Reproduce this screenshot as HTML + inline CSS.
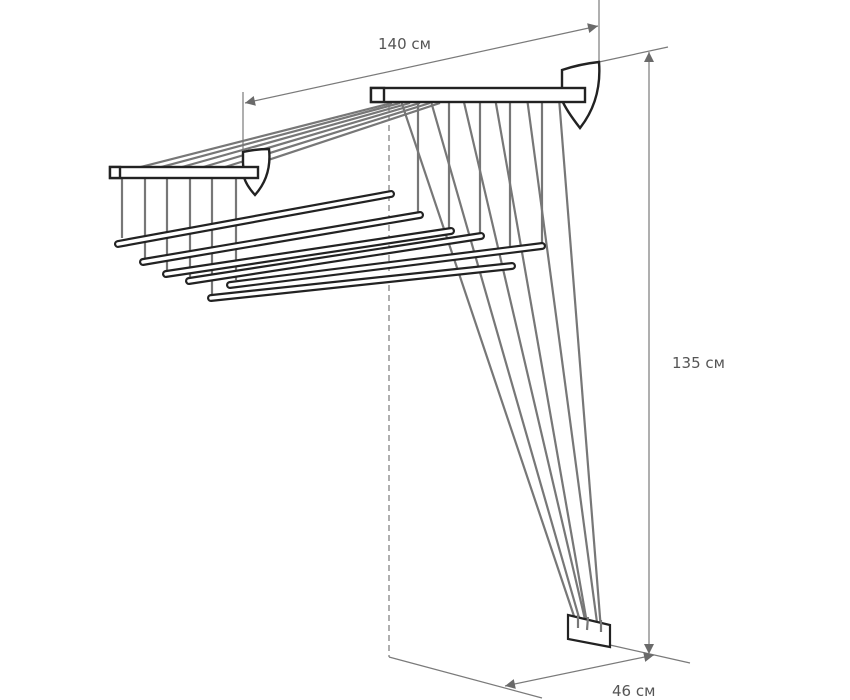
<!DOCTYPE html>
<html><head><meta charset="utf-8"><style>
html,body{margin:0;padding:0;background:#fff;width:850px;height:700px;overflow:hidden}
</style></head><body>
<svg width="850" height="700" viewBox="0 0 850 700" xmlns="http://www.w3.org/2000/svg">
<defs>
<marker id="a" viewBox="0 0 10 10" refX="10" refY="5" markerWidth="14" markerHeight="10" markerUnits="userSpaceOnUse" orient="auto-start-reverse"><path d="M0,0 L10,5 L0,10z" fill="#6a6a6a"/></marker>
</defs>
<g stroke="#7a7a7a" stroke-width="1.2" fill="none">
<line x1="599" y1="0" x2="599" y2="62"/>
<line x1="243" y1="92" x2="243" y2="168"/>
<line x1="245" y1="103" x2="598" y2="26" marker-start="url(#a)" marker-end="url(#a)"/>
<line x1="599" y1="62" x2="668" y2="47"/>
<line x1="649" y1="52" x2="649" y2="654" marker-start="url(#a)" marker-end="url(#a)"/>
<line x1="610" y1="645" x2="690" y2="663"/>
<line x1="389" y1="657" x2="542" y2="698"/>
<line x1="505" y1="686" x2="654" y2="655" marker-start="url(#a)" marker-end="url(#a)"/>
<line x1="389" y1="105" x2="389" y2="657" stroke-dasharray="6,4"/>
</g>
<g stroke="#777" stroke-width="2.2" fill="none">
<line x1="392" y1="103" x2="125" y2="171"/>
<line x1="400" y1="103" x2="150" y2="170"/>
<line x1="410" y1="103" x2="175" y2="169"/>
<line x1="420" y1="103" x2="200" y2="168"/>
<line x1="430" y1="103" x2="225" y2="167"/>
<line x1="440" y1="103" x2="250" y2="166"/>
<line x1="122" y1="177" x2="122" y2="238"/>
<line x1="145" y1="177" x2="145" y2="258"/>
<line x1="167" y1="177" x2="167" y2="271"/>
<line x1="190" y1="177" x2="190" y2="277"/>
<line x1="212" y1="177" x2="212" y2="294"/>
<line x1="236" y1="177" x2="236" y2="280"/>
<line x1="418" y1="102" x2="418" y2="218"/>
<line x1="449" y1="102" x2="449" y2="228"/>
<line x1="480" y1="102" x2="480" y2="236"/>
<line x1="510" y1="102" x2="510" y2="246"/>
<line x1="542" y1="102" x2="542" y2="244"/>
<line x1="400" y1="98" x2="578" y2="628"/>
<line x1="430" y1="98" x2="582" y2="628"/>
<line x1="463" y1="98" x2="587" y2="628"/>
<line x1="495" y1="98" x2="588" y2="629"/>
<line x1="527" y1="98" x2="598" y2="630"/>
<line x1="559" y1="98" x2="601" y2="630"/>
</g>
<g stroke="#222" stroke-width="2.4" fill="#fff">
<path d="M562,85 L562,70 Q580,64 599,62 Q602,100 580,128 Q566,110 562,100 Z"/>
<rect x="371" y="88" width="214" height="14"/>
<rect x="371" y="88" width="13" height="14"/>
<path d="M243,163 L243,152 Q256,149 269,149 Q272,176 255,195 Q246,185 244,177 Z"/>
<rect x="110" y="167" width="148" height="11"/>
<rect x="110" y="167" width="10" height="11"/>
</g>
<g stroke="#222" stroke-width="8" stroke-linecap="round" fill="none">
<line x1="118" y1="244" x2="391" y2="194"/>
<line x1="143" y1="262" x2="420" y2="215"/>
<line x1="166" y1="274" x2="451" y2="231"/>
<line x1="189" y1="281" x2="481" y2="236"/>
<line x1="211" y1="298" x2="512" y2="266"/>
<line x1="230" y1="285" x2="542" y2="246"/>
</g>
<g stroke="#fff" stroke-width="3.6" stroke-linecap="round" fill="none">
<line x1="118" y1="244" x2="391" y2="194"/>
<line x1="143" y1="262" x2="420" y2="215"/>
<line x1="166" y1="274" x2="451" y2="231"/>
<line x1="189" y1="281" x2="481" y2="236"/>
<line x1="211" y1="298" x2="512" y2="266"/>
<line x1="230" y1="285" x2="542" y2="246"/>
</g>
<path d="M568,615 L610,625 L610,647 L568,639 Z" fill="#fff" stroke="#222" stroke-width="2.2"/>
<g stroke="#777" stroke-width="2.2"><line x1="578" y1="615" x2="578" y2="628"/><line x1="588" y1="617" x2="587" y2="630"/><line x1="601" y1="620" x2="601" y2="632"/></g>
<g font-family="'DejaVu Sans','Liberation Sans',sans-serif" font-size="15" fill="#555">
<text x="378" y="49">140 см</text>
<text x="672" y="368">135 см</text>
<text x="612" y="696">46 см</text>
</g>
</svg>
</body></html>
